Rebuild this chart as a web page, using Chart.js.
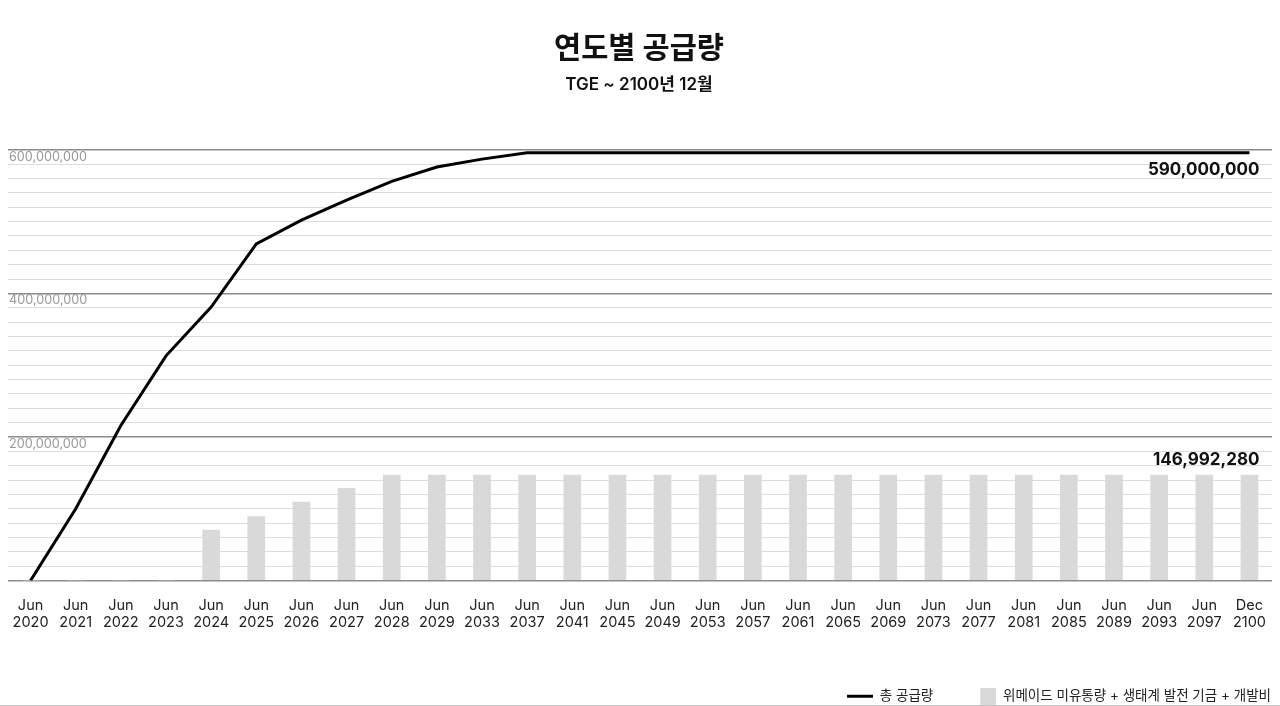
<!DOCTYPE html>
<html><head><meta charset="utf-8">
<script src="https://cdn.jsdelivr.net/npm/chart.js@4/dist/chart.umd.min.js"></script>
<style>
html,body{margin:0;padding:0;background:#fff;}
#wrap{position:relative;width:1280px;height:705px;border-bottom:1px solid #c4c4c4;}
</style></head><body>
<div id="wrap"><canvas id="c"></canvas></div>
<script>
const titleText = '연도별 공급량';
const subtitleText = 'TGE ~ 2100년 12월';
const seriesNames = ['총 공급량', '위메이드 미유통량 + 생태계 발전 기금 + 개발비'];
const endLabels = ['590,000,000', '146,992,280'];
const categories = ['Jun 2020','Jun 2021','Jun 2022','Jun 2023','Jun 2024','Jun 2025','Jun 2026','Jun 2027','Jun 2028','Jun 2029','Jun 2033','Jun 2037','Jun 2041','Jun 2045','Jun 2049','Jun 2053','Jun 2057','Jun 2061','Jun 2065','Jun 2069','Jun 2073','Jun 2077','Jun 2081','Jun 2085','Jun 2089','Jun 2093','Jun 2097','Dec 2100'];
const totalSupply = [0,100000000,216000000,313000000,381000000,469000000,502000000,530000000,556000000,576000000,587000000,596000000,596000000,596000000,596000000,596000000,596000000,596000000,596000000,596000000,596000000,596000000,596000000,596000000,596000000,596000000,596000000,596000000];
const reserveSupply = [0,0,0,0,70400000,88900000,109300000,128300000,146992280,146992280,146992280,146992280,146992280,146992280,146992280,146992280,146992280,146992280,146992280,146992280,146992280,146992280,146992280,146992280,146992280,146992280,146992280,146992280];
const yMin = 0, yMax = 600000000, yStep = 20000000, yLabelStep = 200000000;

const FONT = 'Inter, "Noto Sans CJK KR", sans-serif';
Chart.defaults.font.family = FONT;

function legendImg(kind){
  const w = 62, h = 18;
  const c = document.createElement('canvas'); c.width = w; c.height = h;
  const g = c.getContext('2d');
  if (kind === 'line') { g.fillStyle = '#000'; g.fillRect(w-26, 8, 26, 3); }
  else { g.fillStyle = '#d9d9d9'; g.fillRect(w-16, 0, 16, 18); }
  return c;
}
const legendImgs = [legendImg('line'), legendImg('box')];

const isMajor = v => Math.round(v/1e6) % Math.round(yLabelStep/1e6) === 0;

const endLabelPlugin = {
  id: 'endLabels',
  afterDatasetsDraw(chart){
    const ctx = chart.ctx;
    ctx.save();
    ctx.font = '700 17px ' + FONT;
    ctx.fillStyle = '#111';
    ctx.textAlign = 'right';
    ctx.textBaseline = 'middle';
    const m0 = chart.getDatasetMeta(0), m1 = chart.getDatasetMeta(1);
    const p0 = m0.data[m0.data.length-1], p1 = m1.data[m1.data.length-1];
    ctx.fillText(endLabels[0], p0.x + 10, p0.y + 17);
    ctx.fillText(endLabels[1], p1.x + 10, p1.y - 15);
    ctx.restore();
  }
};

new Chart(document.getElementById('c'), {
  type: 'bar',
  data: {
    labels: categories,
    datasets: [
      { type:'line', label: seriesNames[0], data: totalSupply, borderColor:'#000', backgroundColor:'#000', borderWidth:3, pointRadius:0, tension:0, order:0 },
      { type:'bar', label: seriesNames[1], data: reserveSupply, backgroundColor:'#d9d9d9', barThickness:17, order:1 }
    ]
  },
  options: {
    responsive: true, maintainAspectRatio: false, animation: false, devicePixelRatio: 1,
    layout: { padding: { top:0, left:6, right:8, bottom:-7.5 } },
    plugins: {
      title: { display:true, text:titleText, color:'#111', font:{size:29.5, weight:'bold'}, padding:{top:31, bottom:8} },
      subtitle: { display:true, text:subtitleText, color:'#111', font:{size:17, weight:'600'}, padding:{top:0, bottom:55} },
      legend: {
        position:'bottom', align:'end',
        labels: {
          usePointStyle:true, pointStyleWidth:62, padding:1, color:'#222', font:{size:13.5},
          generateLabels(chart){
            const items = Chart.defaults.plugins.legend.labels.generateLabels(chart);
            items.forEach((it,i)=>{ it.pointStyle = legendImgs[i]; });
            return items;
          }
        }
      },
      tooltip: { enabled:false }
    },
    scales: {
      x: {
        grid:{display:false, drawTicks:false}, border:{display:false},
        ticks:{autoSkip:false, maxRotation:0, minRotation:0, padding:16, color:'#222', font:{size:14.5, lineHeight:'17.5px'}, callback:(v,i)=>categories[i].split(' ')},
        afterFit(s){ s.height = 107.5; s.paddingLeft = 0; s.paddingRight = 0; }
      },
      y: {
        min:yMin, max:yMax,
        border:{display:false},
        grid:{drawTicks:false, color:c=>isMajor(c.tick.value)?'#8c8c8c':'#dcdcdc', lineWidth:c=>isMajor(c.tick.value)?1.5:1},
        ticks:{stepSize:yStep, autoSkip:false, mirror:true, padding:1, labelOffset:7, color:'#9a9a9a', font:{size:12.7},
          callback:v=> (v>0 && isMajor(v)) ? Number(v).toLocaleString('en-US') : ''}
      }
    }
  },
  plugins:[endLabelPlugin]
});
</script>
</body></html>
